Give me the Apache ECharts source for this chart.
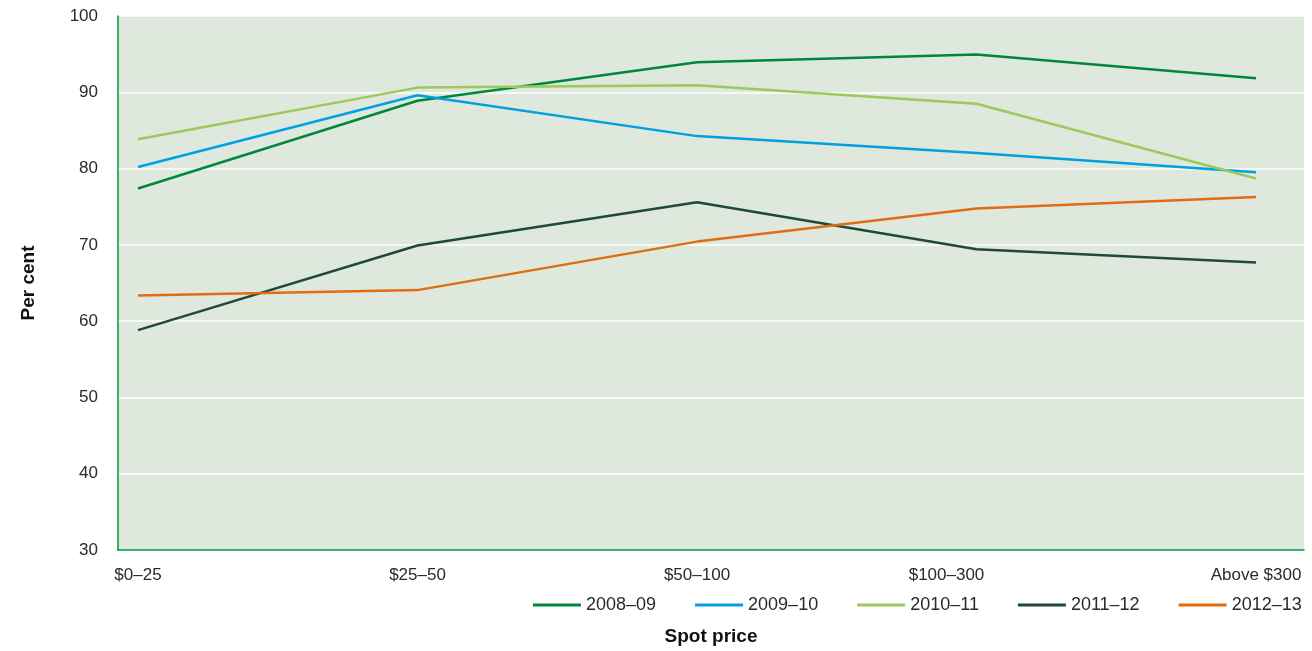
<!DOCTYPE html>
<html>
<head>
<meta charset="utf-8">
<script src="https://cdn.jsdelivr.net/npm/echarts@6/dist/echarts.min.js"></script>
<style>html,body{margin:0;padding:0;background:#fff}#c{width:1312px;height:651px}</style>
</head>
<body>
<div id="c"></div>
<script>
const categories = ['$0–25', '$25–50', '$50–100', '$100–300', 'Above $300'];
const seriesNames = ['2008–09', '2009–10', '2010–11', '2011–12', '2012–13'];
const s2008 = [77.6, 89.0, 94.0, 95.0, 91.9];
const s2009 = [80.4, 89.7, 84.4, 82.2, 79.7];
const s2010 = [84.0, 90.7, 91.0, 88.6, 78.9];
const s2011 = [59.2, 70.2, 75.8, 69.7, 68.0];
const s2012 = [63.7, 64.4, 70.7, 75.0, 76.5];
const yTicks = [30, 40, 50, 60, 70, 80, 90, 100];

const colors = ['#00873d', '#00a0e3', '#9cc95a', '#1f4a3a', '#de6d14'];
const font = 'Liberation Sans, Arial, Helvetica, sans-serif';
const allData = [s2008, s2009, s2010, s2011, s2012];

const chart = echarts.init(document.getElementById('c'));
chart.setOption({
  animation: false,
  textStyle: { fontFamily: font },
  color: colors,
  grid: [
    { left: 118, right: 8, top: 16, bottom: 96, show: true, backgroundColor: '#dfe8dd', borderWidth: 0 },
    { left: 138, right: 56, top: 16, bottom: 96 }
  ],
  xAxis: [
    { gridIndex: 0, type: 'category', data: categories, boundaryGap: false,
      axisLine: { show: true, lineStyle: { color: '#00963f', width: 1.5 } },
      axisTick: { show: false }, axisLabel: { show: false }, splitLine: { show: false },
      name: 'Spot price', nameLocation: 'middle', nameGap: 77,
      nameTextStyle: { fontSize: 19, fontWeight: 'bold', color: '#111', fontFamily: font } },
    { gridIndex: 1, type: 'category', data: categories, boundaryGap: false,
      axisLine: { show: false }, axisTick: { show: false }, splitLine: { show: false },
      axisLabel: { show: true, fontSize: 17, color: '#2a2a2a', margin: 12, fontFamily: font,
        formatter: function (v, i) { return i === 3 ? '{off|' + v + '}' : v; },
        rich: { off: { fontSize: 17, color: '#2a2a2a', padding: [0, 60, 0, 0], fontFamily: font } } } }
  ],
  yAxis: [
    { gridIndex: 0, type: 'value', min: yTicks[0], max: yTicks[yTicks.length - 1], interval: 10,
      axisLine: { show: true, lineStyle: { color: '#00963f', width: 1.5 } },
      axisTick: { show: false },
      axisLabel: { fontSize: 17, color: '#2a2a2a', margin: 20, fontFamily: font },
      splitLine: { show: true, lineStyle: { color: '#ffffff', width: 1.5 } },
      name: 'Per cent', nameLocation: 'middle', nameGap: 80, nameRotate: 90,
      nameTextStyle: { fontSize: 19, fontWeight: 'bold', color: '#111', fontFamily: font } },
    { gridIndex: 1, type: 'value', min: yTicks[0], max: yTicks[yTicks.length - 1], interval: 10,
      show: false, splitLine: { show: false } }
  ],
  legend: {
    left: 533, top: 596, padding: 0, icon: 'rect', itemWidth: 48, itemHeight: 3, itemGap: 39,
    textStyle: { fontSize: 18, color: '#2a2a2a', fontFamily: font },
    data: seriesNames
  },
  series: seriesNames.map((n, i) => ({
    name: n, type: 'line', xAxisIndex: 1, yAxisIndex: 1, data: allData[i],
    showSymbol: false, symbol: 'none',
    lineStyle: { width: 2.5, color: colors[i] }, itemStyle: { color: colors[i] }
  }))
});
</script>
</body>
</html>
